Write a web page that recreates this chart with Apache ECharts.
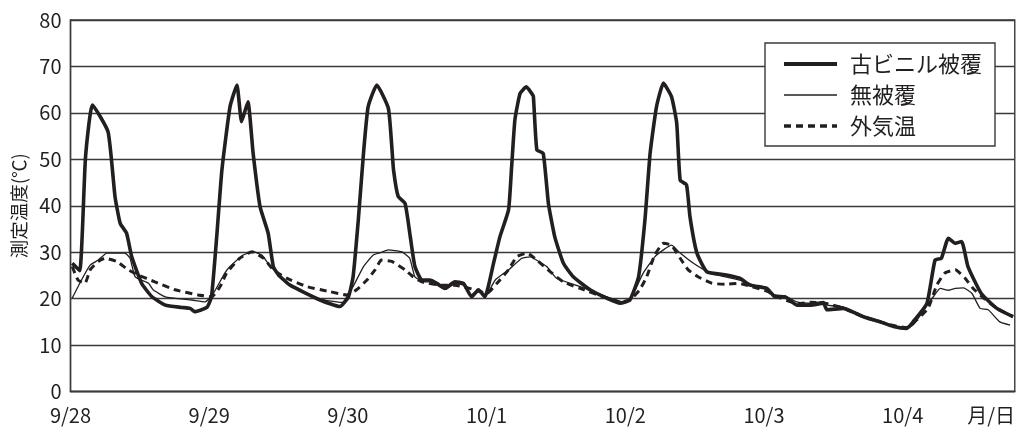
<!DOCTYPE html>
<html>
<head>
<meta charset="utf-8">
<script src="https://cdn.jsdelivr.net/npm/echarts@6/dist/echarts.min.js"></script>
<style>html,body{margin:0;padding:0;background:#fff}#c{width:1018px;height:429px}</style>
</head>
<body>
<div id="c"></div>
<script>
// hours since 9/28 00:00, temperature (°C)
const oldVinyl = [[0.3,27.6],[1.6,26.0],[2.6,50.5],[3.8,61.7],[6.5,55.9],[7.7,42.0],[8.6,36.2],[9.7,34.1],[10.6,29.0],[12.3,23.3],[14.1,20.4],[16.4,18.6],[19.2,18.1],[20.7,17.9],[21.5,17.2],[23.6,18.1],[24.4,20.4],[25.3,33.3],[26.2,47.7],[27.6,61.3],[28.8,66.0],[29.6,58.1],[30.7,62.4],[31.6,51.3],[32.8,39.8],[34.2,34.1],[35.1,26.9],[36.0,25.1],[38.0,22.9],[43.2,19.7],[46.6,18.3],[48.1,20.4],[48.9,24.7],[49.8,36.9],[50.7,51.3],[51.5,61.3],[53.0,66.0],[55.0,61.0],[55.6,52.7],[55.9,47.7],[56.7,42.0],[57.9,40.5],[58.8,33.3],[59.6,26.9],[60.8,24.0],[62.2,24.0],[63.4,23.3],[64.8,22.2],[66.5,23.6],[68.0,23.3],[69.4,20.4],[70.6,21.9],[71.7,20.4],[73.2,27.6],[74.3,33.3],[75.8,39.1],[76.3,47.7],[76.9,58.5],[77.8,64.2],[78.9,65.6],[79.8,64.2],[80.1,63.5],[80.7,52.0],[81.8,51.3],[82.7,40.5],[83.8,33.3],[85.3,27.6],[87.0,24.7],[89.9,21.9],[92.8,20.1],[95.1,19.0],[96.8,19.7],[98.3,24.7],[99.4,36.9],[100.3,51.3],[101.4,61.3],[102.6,66.4],[104.0,63.5],[104.9,57.8],[105.5,45.5],[106.6,44.5],[107.2,37.6],[108.4,29.8],[110.1,25.8],[113.5,25.1],[115.8,24.4],[117.6,22.9],[120.5,22.2],[121.9,20.4],[123.6,20.4],[125.7,18.6],[128.0,18.6],[130.3,19.0],[130.9,17.6],[133.7,17.9],[137.2,16.1],[140.1,15.0],[142.4,14.0],[144.7,13.6],[145.8,15.0],[148.2,19.0],[149.6,28.3],[150.7,28.7],[151.9,33.0],[153.1,31.9],[154.2,32.3],[155.3,26.9],[157.6,21.1],[160.3,17.9],[163.1,16.1]];
const uncovered = [[0.3,20.1],[1.9,24.0],[3.4,27.2],[4.8,28.3],[6.3,29.8],[9.4,29.8],[10.3,28.7],[11.2,24.7],[13.5,23.3],[14.3,21.9],[16.4,20.4],[21.0,19.7],[23.3,19.3],[24.7,21.1],[26.7,25.5],[27.6,26.9],[29.9,29.4],[31.6,30.1],[33.1,29.4],[34.2,27.6],[35.7,25.5],[38.0,22.9],[43.2,19.9],[47.0,19.2],[48.9,22.6],[50.7,26.9],[52.4,29.4],[53.6,29.9],[55.0,30.5],[57.3,30.1],[58.7,28.7],[59.6,24.7],[61.3,23.6],[62.2,23.6],[63.4,22.9],[64.8,22.0],[66.5,23.2],[68.0,22.9],[69.4,20.8],[70.6,21.5],[71.7,20.4],[73.5,24.0],[75.8,26.2],[78.1,28.7],[79.5,29.0],[80.1,28.7],[82.4,26.9],[84.1,24.4],[88.2,22.6],[92.8,20.4],[95.7,19.3],[97.1,20.4],[99.1,25.5],[101.1,29.0],[102.6,30.5],[104.0,31.5],[105.5,29.8],[107.8,27.6],[110.7,25.5],[113.3,24.7],[115.8,24.0],[117.6,23.2],[120.5,22.0],[121.9,20.8],[123.6,20.6],[125.7,19.3],[128.0,19.0],[130.3,19.4],[131.0,18.6],[133.7,18.2],[137.2,16.3],[140.1,15.2],[142.4,14.2],[144.7,13.5],[146.0,14.6],[148.2,18.5],[149.3,20.4],[150.5,22.2],[152.0,21.8],[153.1,22.2],[154.5,22.3],[156.0,21.1],[157.4,17.9],[158.8,17.6],[160.8,15.0],[162.6,14.3]];
const outside = [[0.3,26.9],[1.3,24.0],[2.5,23.3],[3.4,26.2],[4.8,28.0],[6.0,28.7],[8.0,28.0],[10.0,26.2],[11.7,25.1],[14.6,23.6],[18.1,21.9],[22.1,20.8],[24.4,20.4],[25.9,22.6],[27.0,25.5],[29.3,28.7],[31.4,30.1],[33.4,28.7],[35.1,26.2],[37.4,24.4],[40.9,22.6],[44.9,21.5],[47.8,20.8],[49.5,21.9],[51.3,24.0],[52.7,26.2],[53.8,28.3],[55.6,28.0],[57.9,26.2],[59.3,24.7],[60.8,23.6],[64.2,22.9],[66.5,22.9],[70.0,21.9],[72.0,21.1],[73.8,23.3],[75.8,26.2],[77.2,29.0],[79.0,29.8],[80.7,28.3],[83.0,25.8],[85.3,23.6],[88.2,22.2],[92.2,20.4],[95.1,19.3],[96.8,19.7],[98.5,21.9],[99.7,24.7],[101.1,29.4],[102.6,31.9],[104.0,31.5],[105.5,28.7],[106.9,26.2],[108.6,24.7],[111.0,23.3],[113.3,23.1],[115.6,23.3],[117.9,22.6],[120.5,21.6],[122.0,20.6],[124.0,19.6],[126.0,18.9],[128.0,19.2],[130.5,19.0],[133.7,18.0],[137.2,16.0],[140.1,15.0],[142.4,14.2],[144.7,13.8],[146.5,15.5],[148.4,17.9],[149.9,22.9],[151.3,25.5],[153.1,26.2],[154.8,24.4],[156.2,22.2],[158.0,20.1],[160.3,17.9],[163.1,16.1]];
const seriesNames = ['古ビニル被覆', '無被覆', '外気温'];
const tickHours = [0, 24, 48, 72, 96, 120, 144, 159.3];
const tickLabels = ['9/28', '9/29', '9/30', '10/1', '10/2', '10/3', '10/4', '月/日'];
const yTicks = [0, 10, 20, 30, 40, 50, 60, 70, 80];
const yTitle = '測定温度(℃)';

const ink = '#231f20';
const font = '"Noto Sans CJK JP", "Noto Sans", sans-serif';
const styles = [
  {color: ink, width: 3.6, type: 'solid'},
  {color: ink, width: 1.3, type: 'solid'},
  {color: ink, width: 3, type: [7, 5]}
];
const chart = echarts.init(document.getElementById('c'), null, {renderer: 'canvas'});
chart.setOption({
  animation: false,
  backgroundColor: '#fff',
  textStyle: {fontFamily: font, color: ink},
  grid: {left: 70.5, right: 3, top: 20, bottom: 37.5, show: true, borderColor: '#3a3a3a', borderWidth: 1.4, backgroundColor: 'transparent'},
  legend: {
    show: true,
    orient: 'vertical', left: 765, top: 43,
    data: seriesNames.map((n, i) => ({name: n, lineStyle: {color: ink, width: styles[i].width + 0.4, type: styles[i].type}, itemStyle: {color: 'rgba(0,0,0,0)', borderWidth: 0}})),
    backgroundColor: '#fff', borderColor: '#3a3a3a', borderWidth: 1.4,
    padding: [10, 13, 9, 17],
    itemWidth: 53, itemHeight: 22, itemGap: 9,
    itemStyle: {color: 'rgba(0,0,0,0)', borderWidth: 0},
    textStyle: {fontSize: 22, color: ink, fontFamily: font, padding: [0, 0, 0, 8]}
  },
  xAxis: {
    type: 'value', min: 0, max: 163.4,
    splitLine: {show: false},
    axisTick: {show: false},
    axisLine: {show: true, lineStyle: {color: '#3a3a3a', width: 1.4}},
    axisLabel: {
      customValues: tickHours,
      fontSize: 20, color: ink, margin: 14,
      formatter: v => { const i = tickHours.indexOf(v); return i >= 0 ? tickLabels[i] : ''; }
    }
  },
  yAxis: {
    type: 'value', min: 0, max: 80, interval: 10,
    name: yTitle, nameLocation: 'middle', nameGap: 39,
    nameTextStyle: {fontSize: 18.5, color: ink, fontFamily: font},
    axisTick: {show: false},
    axisLine: {show: true, lineStyle: {color: '#3a3a3a', width: 1.4}},
    splitLine: {show: true, lineStyle: {color: '#3a3a3a', width: 1.3}},
    axisLabel: {fontSize: 20, color: ink, margin: 9,
      formatter: v => yTicks.includes(v) ? String(v) : ''}
  },
  series: [
    {name: seriesNames[0], type: 'line', data: oldVinyl, showSymbol: false, symbol: 'none', smooth: 0.15, z: 5,
     lineStyle: Object.assign({join: 'round'}, styles[0]), itemStyle: {color: ink}},
    {name: seriesNames[1], type: 'line', data: uncovered, showSymbol: false, symbol: 'none', smooth: 0.15, z: 4,
     lineStyle: styles[1], itemStyle: {color: ink}},
    {name: seriesNames[2], type: 'line', data: outside, showSymbol: false, symbol: 'none', smooth: 0.15, z: 3,
     lineStyle: styles[2], itemStyle: {color: ink}}
  ]
});
</script>
</body>
</html>
